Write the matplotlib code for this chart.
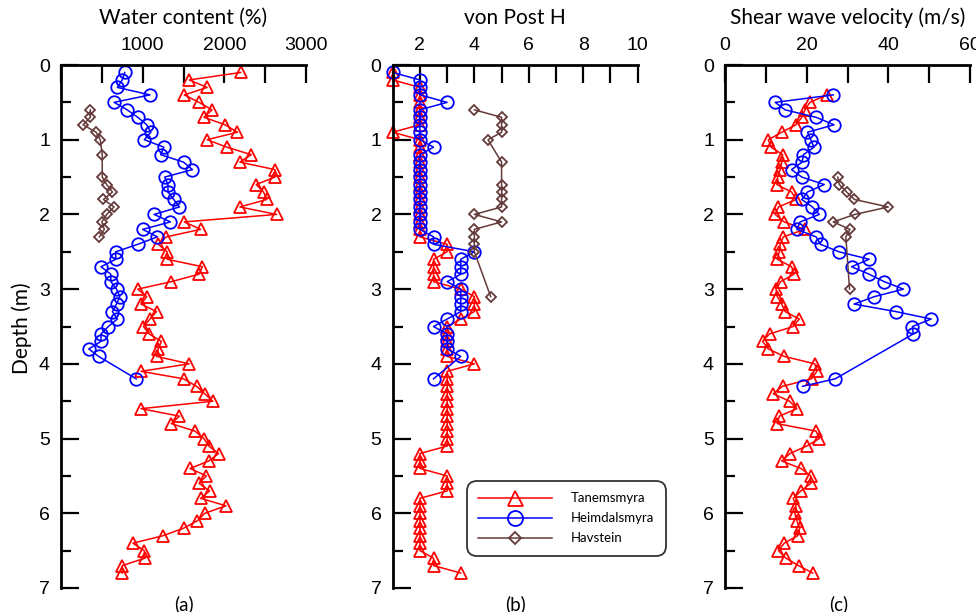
import matplotlib.pyplot as plt

plt.rcParams['font.family'] = 'Liberation Sans'

# ---- water content (%) ----
tan_depth = [0.1, 0.2, 0.3, 0.4, 0.5, 0.6, 0.7, 0.8, 0.9, 1.0,
             1.1, 1.2, 1.3, 1.4, 1.5, 1.6, 1.7, 1.8, 1.9, 2.0,
             2.1, 2.2, 2.3, 2.4, 2.5, 2.6, 2.7, 2.8, 2.9, 3.0,
             3.1, 3.2, 3.3, 3.4, 3.5, 3.6, 3.7, 3.8, 3.9, 4.0,
             4.1, 4.2, 4.3, 4.4, 4.5, 4.6, 4.7, 4.8, 4.9, 5.0,
             5.1, 5.2, 5.3, 5.4, 5.5, 5.6, 5.7, 5.8, 5.9, 6.0,
             6.1, 6.2, 6.3, 6.4, 6.5, 6.6, 6.7, 6.8]
tan_wc = [2200, 1570, 1790, 1510, 1690, 1850, 1750, 2010, 2160, 1790,
          2030, 2330, 2190, 2620, 2620, 2390, 2480, 2520, 2190, 2640,
          1510, 1710, 1290, 1190, 1300, 1300, 1730, 1690, 1350, 940,
          1050, 980, 1170, 1090, 1010, 1080, 1230, 1190, 1170, 1570,
          980, 1500, 1660, 1760, 1860, 980, 1450, 1350, 1640, 1750,
          1810, 1930, 1810, 1580, 1780, 1690, 1820, 1710, 2020, 1760,
          1670, 1500, 1250, 880, 1020, 1030, 750, 750]

hei_depth = [0.1, 0.2, 0.3, 0.4, 0.5, 0.6, 0.7, 0.8, 0.9, 1.0,
             1.1, 1.2, 1.3, 1.4, 1.5, 1.6, 1.7, 1.8, 1.9, 2.0,
             2.1, 2.2, 2.3, 2.4, 2.5, 2.6, 2.7, 2.8, 2.9, 3.0,
             3.1, 3.2, 3.3, 3.4, 3.5, 3.6, 3.7, 3.8, 3.9, 4.2]
hei_wc = [780, 750, 690, 1090, 650, 810, 940, 1050, 1100, 1020,
          1260, 1220, 1500, 1610, 1270, 1310, 1310, 1380, 1450, 1140,
          1340, 1000, 1180, 940, 670, 670, 490, 610, 610, 680,
          720, 680, 630, 690, 580, 490, 490, 340, 460, 920]

hav_wc_depth = [0.6, 0.7, 0.8, 0.9, 1.0, 1.2, 1.5, 1.6, 1.7, 1.8, 1.9, 2.0, 2.1, 2.2, 2.3]
hav_wc = [360, 360, 270, 430, 480, 505, 505, 560, 630, 520, 650, 560, 500, 530, 470]

# ---- von Post humification ----
tan_vp = [1, 1, 2, 2, 2, 2, 2, 2, 1, 2,
          2, 2, 2, 2, 2, 2, 2, 2, 2, 2,
          2, 2, 2, 3, 3, 2.5, 2.5, 2.5, 2.5, 3.5,
          4, 4, 4, 3.5, 3, 3, 3, 3, 3, 4,
          3, 3, 3, 3, 3, 3, 3, 3, 3, 3,
          3, 2, 2, 2, 3, 3, 3, 2, 2, 2,
          2, 2, 2, 2, 2, 2.5, 2.5, 3.5]
hei_vp = [1, 2, 2, 2, 3, 2, 2, 2, 2, 2,
          2.5, 2, 2, 2, 2, 2, 2, 2, 2, 2,
          2, 2, 2.5, 2.5, 4, 3.5, 3.5, 3.5, 3, 3.5,
          3.5, 3.5, 3.5, 3, 2.5, 3, 3, 3, 3.5, 2.5]
hav_vp_depth = [0.6, 0.7, 0.8, 0.9, 1.0, 1.3, 1.6, 1.7, 1.8, 1.9, 2.0, 2.1, 2.2, 2.3, 2.4, 2.5, 3.1]
hav_vp = [4, 5, 5, 5, 4.5, 5, 5, 5, 5, 5, 4, 5, 4, 4, 4, 4, 4.6]

# ---- shear wave velocity (m/s) ----
tan_vs_depth = [0.4, 0.5, 0.6, 0.7, 0.8, 0.9, 1.0, 1.1, 1.2, 1.3,
                1.4, 1.5, 1.6, 1.7, 1.8, 1.9, 2.0, 2.1, 2.2, 2.3,
                2.4, 2.5, 2.6, 2.7, 2.8, 2.9, 3.0, 3.1, 3.2, 3.3,
                3.4, 3.5, 3.6, 3.7, 3.8, 3.9, 4.0, 4.1, 4.2, 4.3,
                4.4, 4.5, 4.6, 4.7, 4.8, 4.9, 5.0, 5.1, 5.2, 5.3,
                5.4, 5.5, 5.6, 5.7, 5.8, 5.9, 6.0, 6.1, 6.2, 6.3,
                6.4, 6.5, 6.6, 6.7, 6.8]
tan_vs = [25, 20.8, 19.6, 18.8, 17.4, 13.9, 10.6, 11.3, 14.1, 13.9,
          13.5, 12.9, 12.7, 16.3, 17.4, 13.1, 12.3, 14.5, 19.5, 14.3,
          13.5, 13.3, 12.8, 16.3, 16.9, 13.6, 12.5, 12.8, 13.9, 14.7,
          18.2, 16.7, 10.9, 9.2, 10.6, 14.5, 22, 22.5, 21.2, 14.1,
          11.8, 15.8, 17.6, 13.3, 12.8, 22.3, 23.1, 20, 15.9, 13.9,
          18.6, 21, 21, 18.6, 16.7, 17.4, 17.1, 17.6, 18.3, 17.8,
          14.5, 13.1, 14.9, 18, 21.5]
hei_vs_depth = [0.4, 0.5, 0.6, 0.7, 0.8, 0.9, 1.0, 1.1, 1.2, 1.3,
                1.4, 1.5, 1.6, 1.7, 1.8, 1.9, 2.0, 2.1, 2.2, 2.3,
                2.4, 2.5, 2.6, 2.7, 2.8, 2.9, 3.0, 3.1, 3.2, 3.3,
                3.4, 3.5, 3.6, 4.2, 4.3]
hei_vs = [26.5, 12.3, 14.7, 22.3, 26.7, 20.2, 21, 21.8, 19.2, 18.9,
          16.3, 18.8, 24.3, 20.2, 18.8, 21.4, 23.1, 18.4, 17.6, 22.3,
          23.4, 27.9, 35.3, 31, 35.3, 39, 43.7, 36.6, 31.6, 41.8,
          50.5, 45.9, 46.1, 27, 19]
hav_vs_depth = [1.5, 1.6, 1.7, 1.8, 1.9, 2.0, 2.1, 2.2, 2.3, 3.0]
hav_vs = [27.6, 28, 29.8, 31.7, 40, 31.8, 26.5, 30.6, 29.6, 30.5]

sites = ['Tanemsmyra', 'Heimdalsmyra', 'Havstein']
colors = ['#ff0000', '#0000ff', '#653a3a']
markers = ['^', 'o', 'D']
msizes = [9, 9, 5]

label_font = 'Lato'

fig = plt.figure(figsize=(9.76, 6.12), dpi=100)


def add_panel(left, xmin, xmax, ticks, labels, title, tag, tag_x=0.5):
    ax = fig.add_axes([left / 976, 24 / 612, 245 / 976, 523 / 612])
    ax.set_xlim(xmin, xmax)
    ax.set_ylim(7, 0)
    ax.xaxis.tick_top()
    ax.set_xticks(ticks)
    ax.set_xticklabels(labels)
    ax.set_yticks(range(8))
    ax.set_yticks([0.5, 1.5, 2.5, 3.5, 4.5, 5.5, 6.5], minor=True)
    for side in ['right', 'bottom']:
        ax.spines[side].set_visible(False)
    for side in ['left', 'top']:
        ax.spines[side].set_linewidth(2)
    ax.tick_params(which='major', direction='in', length=13, width=1.6,
                   labelsize=14, pad=8)
    ax.tick_params(axis='y', which='minor', direction='in', length=7, width=1.6)
    ax.text(0.5, 1 + 47 / 523, title, transform=ax.transAxes, ha='center',
            va='center', fontsize=15, family=label_font)
    ax.text(tag_x, -16 / 523, tag, transform=ax.transAxes, ha='center',
            va='center', fontsize=13.5, family=label_font)
    return ax


def draw(ax, x, y, i):
    return ax.plot(x, y, color=colors[i], marker=markers[i], ms=msizes[i],
                   mfc='none', mec=colors[i], mew=1.3, lw=1.1,
                   clip_on=False, label=sites[i])[0]


ax_a = add_panel(61, 0, 3000, [0, 500, 1000, 1500, 2000, 2500, 3000],
                 ['', '', '1000', '', '2000', '', '3000'],
                 'Water content (%)', '(a)')
draw(ax_a, tan_wc, tan_depth, 0)
draw(ax_a, hei_wc, hei_depth, 1)
draw(ax_a, hav_wc, hav_wc_depth, 2)

ax_b = add_panel(392.7, 1, 10, [2, 3, 4, 5, 6, 7, 8, 9, 10],
                 ['2', '', '4', '', '6', '', '8', '', '10'],
                 'von Post H', '(b)')
h1 = draw(ax_b, tan_vp, tan_depth, 0)
h2 = draw(ax_b, hei_vp, hei_depth, 1)
h3 = draw(ax_b, hav_vp, hav_vp_depth, 2)

ax_c = add_panel(725, 0, 60, [0, 10, 20, 30, 40, 50, 60],
                 ['0', '', '20', '', '40', '', '60'],
                 'Shear wave velocity (m/s)', '(c)', tag_x=0.465)
draw(ax_c, tan_vs, tan_vs_depth, 0)
draw(ax_c, hei_vs, hei_vs_depth, 1)
draw(ax_c, hav_vs, hav_vs_depth, 2)

fig.text(22 / 976, 1 - 328 / 612, 'Depth (m)', rotation=90, ha='center',
         va='center', fontsize=15, family=label_font)

leg = fig.legend(handles=[h1, h2, h3], loc='upper left',
                 bbox_to_anchor=(460 / 976, 1 - 474 / 612),
                 prop={'family': label_font, 'size': 9.5},
                 handlelength=5.6, handletextpad=1.4, labelspacing=0.6,
                 borderpad=0.9, markerscale=1.2, fancybox=True, frameon=True)
frame = leg.get_frame()
frame.set_edgecolor('black')
frame.set_linewidth(1.3)
frame.set_boxstyle('round,pad=0,rounding_size=0.8')

fig.savefig('out.png', dpi=100)
